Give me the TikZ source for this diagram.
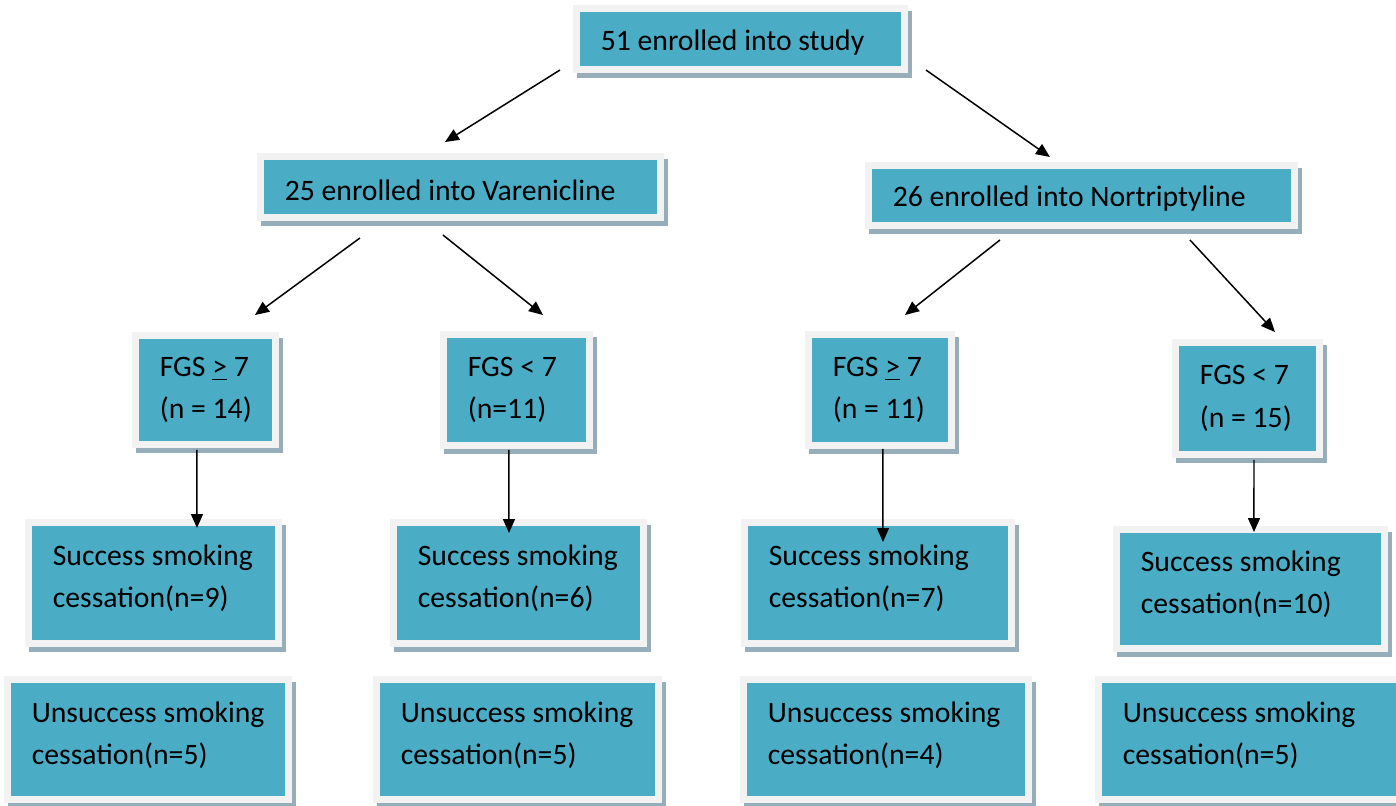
\documentclass[tikz,border=0pt]{standalone}
\usepackage{fontspec}
\setmainfont{Carlito}
\usepackage{tikz}
\definecolor{boxfill}{RGB}{75,172,198}
\definecolor{framegray}{RGB}{242,242,242}
\definecolor{shadowgray}{RGB}{150,174,186}
\usetikzlibrary{arrows.meta}

\begin{document}
\begin{tikzpicture}[x=0.02cm, y=-0.02cm,
	box/.style={rectangle, draw=framegray, fill=boxfill, line width=0.14cm, inner sep=0pt, anchor=north west,
		preaction={draw=shadowgray, fill=shadowgray, line width=0.14cm, transform canvas={shift={(0.08cm,-0.11cm)}}}},
	txt/.style={anchor=west, align=left, inner sep=0pt, xshift=0.55cm, font=\fontsize{16.9}{24}\selectfont},
	onetxt/.style={txt, yshift=-0.07cm},
	twotxt/.style={txt, yshift=0.09cm},
	arr/.style={-{Triangle[length=0.28cm, width=0.24cm]}, line width=0.85pt, black}]
	\useasboundingbox (0,0) rectangle (1396,805);
	% top level
	\node[box, minimum width=6.56cm, minimum height=1.22cm, label={[onetxt]west:51 enrolled into study}] (study) at (573,5) {};
	\node[box, minimum width=8cm, minimum height=1.22cm, label={[onetxt]west:25 enrolled into Varenicline}] (var) at (257,153) {};
	\node[box, minimum width=8.52cm, minimum height=1.2cm, label={[onetxt]west:26 enrolled into Nortriptyline}] (nor) at (865,162) {};
	% FGS groups
	\node[box, minimum width=2.8cm, minimum height=2.18cm, label={[txt]west:FGS \underline{>} 7\\(n = 14)}] (fgsA) at (132,332) {};
	\node[box, minimum width=2.92cm, minimum height=2.22cm, label={[txt]west:FGS < 7\\(n=11)}] (fgsB) at (440,331) {};
	\node[box, minimum width=2.86cm, minimum height=2.22cm, label={[txt]west:FGS \underline{>} 7\\(n = 11)}] (fgsC) at (805,331) {};
	\node[box, minimum width=2.88cm, minimum height=2.24cm, label={[txt]west:FGS < 7\\(n = 15)}] (fgsD) at (1172,339) {};
	% outcomes
	\node[box, minimum width=5cm, minimum height=2.42cm, label={[twotxt]west:Success smoking\\cessation(n=9)}] (succA) at (25,519) {};
	\node[box, minimum width=5cm, minimum height=2.42cm, label={[twotxt]west:Success smoking\\cessation(n=6)}] (succB) at (390,519) {};
	\node[box, minimum width=5.34cm, minimum height=2.42cm, label={[twotxt]west:Success smoking\\cessation(n=7)}] (succC) at (741,519) {};
	\node[box, minimum width=5.36cm, minimum height=2.38cm, label={[twotxt]west:Success smoking\\cessation(n=10)}] (succD) at (1113,526) {};
	\node[box, minimum width=5.62cm, minimum height=2.4cm, label={[twotxt]west:Unsuccess smoking\\cessation(n=5)}] (failA) at (4,676) {};
	\node[box, minimum width=5.64cm, minimum height=2.4cm, label={[twotxt]west:Unsuccess smoking\\cessation(n=5)}] (failB) at (373,676) {};
	\node[box, minimum width=5.7cm, minimum height=2.4cm, label={[twotxt]west:Unsuccess smoking\\cessation(n=4)}] (failC) at (740,676) {};
	\node[box, minimum width=6.06cm, minimum height=2.4cm, label={[twotxt]west:Unsuccess smoking\\cessation(n=5)}] (failD) at (1095,676) {};
	% arrows
	\draw[arr] ([shift={(-13,-3)}]study.south west) -- ([shift={(-15.5,-11)}]var.north);
	\draw[arr] ([shift={(18,-3)}]study.south east) -- ([shift={(-31.5,-5)}]nor.north);
	\draw[arr] ([shift={(-100.5,17)}]var.south) -- ([shift={(49.5,-17)}]fgsA.north);
	\draw[arr] ([shift={(-17.5,14)}]var.south) -- ([shift={(26.5,-16)}]fgsB.north);
	\draw[arr] ([shift={(-81.5,11)}]nor.south) -- ([shift={(25,-16)}]fgsC.north);
	\draw[arr] ([shift={(108.5,11)}]nor.south) -- ([shift={(27.5,-7)}]fgsD.north);
	\draw[arr] ([shift={(-8.5,2)}]fgsA.south) -- ([shift={(43.5,9)}]succA.north);
	\draw[arr] ([shift={(-7.5,1)}]fgsB.south) -- ([shift={(-9.5,14)}]succB.north);
	\draw[arr] ([shift={(3,0)}]fgsC.south) -- ([shift={(5,23)}]succC.north);
	\draw[arr] ([shift={(6.5,2)}]fgsD.south) -- ([shift={(3.5,6)}]succD.north);
\end{tikzpicture}
\end{document}
